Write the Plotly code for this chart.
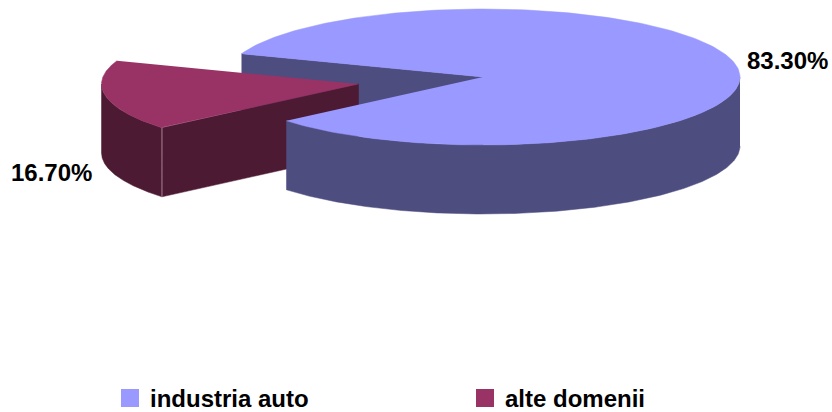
import numpy as np
import plotly.graph_objects as go

# ---- data ----
categories = ["industria auto", "alte domenii"]
values = [83.3, 16.7]
value_labels = ["83.30%", "16.70%"]

# ---- style / projection ----
top_colors = ["#9999FF", "#993366"]
side_colors = ["#4D4D80", "#4D1A33"]
RX, RY, DEPTH = 257, 68, 69
CENTER = (483, 77)
EXPLODE = (-124.5, 7)
START_DEG = 200
FONT = "Liberation Sans, Arial, sans-serif"
FONT_SIZE = 24


def pt(theta_deg, origin, dy=0.0):
    t = np.radians(theta_deg)
    return origin[0] + RX * np.cos(t), origin[1] + RY * np.sin(t) + dy


def arc(a0, a1, origin, dy=0.0):
    th = np.linspace(a0, a1, 241)
    return pt(th, origin, dy)


def poly(fig, xs, ys, color, name=None):
    fig.add_trace(go.Scatter(x=list(xs), y=list(ys), mode="lines", fill="toself",
                             fillcolor=color, line=dict(color=color, width=0.5),
                             hoverinfo="skip", showlegend=False, name=name))


spans = [v / sum(values) * 360 for v in values]
a0_main, a1_main = START_DEG, START_DEG + spans[0]
a0_red, a1_red = a1_main - 360, a1_main - 360 + spans[1]
red_origin = (CENTER[0] + EXPLODE[0], CENTER[1] + EXPLODE[1])

fig = go.Figure()

# back cut wall of the main slice, seen through the gap
bx, by = pt(a0_main, CENTER)
poly(fig, [bx, CENTER[0], CENTER[0], bx], [by, CENTER[1], CENTER[1] + DEPTH, by + DEPTH], side_colors[0])

# exploded slice: cut wall, rim wall, top
fx, fy = pt(a0_red, red_origin)
poly(fig, [fx, red_origin[0], red_origin[0], fx],
     [fy, red_origin[1], red_origin[1] + DEPTH, fy + DEPTH], side_colors[1])
rim_a = max(a0_red, 90), min(a1_red, 180)
ux, uy = arc(rim_a[0], rim_a[1], red_origin)
lx, ly = arc(rim_a[1], rim_a[0], red_origin, DEPTH)
poly(fig, np.r_[ux, lx], np.r_[uy, ly], side_colors[1])
fig.add_trace(go.Scatter(x=[fx, fx], y=[fy, fy + DEPTH], mode="lines",
                         line=dict(color="#A87F93", width=1), hoverinfo="skip", showlegend=False))
tx, ty = arc(a0_red, a1_red, red_origin)
poly(fig, np.r_[red_origin[0], tx], np.r_[red_origin[1], ty], top_colors[1], categories[1])

# main slice: rim wall and top
ux, uy = arc(360, a1_main, CENTER)
lx, ly = arc(a1_main, 360, CENTER, DEPTH)
poly(fig, np.r_[ux, lx], np.r_[uy, ly], side_colors[0])
tx, ty = arc(a0_main, a1_main, CENTER)
poly(fig, np.r_[CENTER[0], tx], np.r_[CENTER[1], ty], top_colors[0], categories[0])

# legend entries
for name, color in zip(categories, top_colors):
    fig.add_trace(go.Scatter(x=[None], y=[None], mode="markers", name=name,
                             marker=dict(symbol="square", size=16, color=color,
                                         line=dict(color=color, width=2))))

label_pos = [(787.5, 60), (51.5, 172)]
for text, (lx0, ly0) in zip(value_labels, label_pos):
    fig.add_annotation(x=lx0, y=ly0, text=f"<b>{text}</b>", showarrow=False,
                       font=dict(family=FONT, size=FONT_SIZE, color="black"))

fig.update_layout(
    width=832, height=412, margin=dict(l=0, r=0, t=0, b=0, autoexpand=False),
    paper_bgcolor="white", plot_bgcolor="white",
    xaxis=dict(range=[0, 832], visible=False, fixedrange=True),
    yaxis=dict(range=[412, 0], visible=False, fixedrange=True),
    legend=dict(orientation="h", x=110 / 832, xanchor="left", y=-9 / 412, yanchor="bottom",
                entrywidth=310, entrywidthmode="pixels", tracegroupgap=0,
                font=dict(family=FONT, size=FONT_SIZE, color="black", weight="bold"),
                bgcolor="rgba(0,0,0,0)", borderwidth=0),
)
fig.write_html("out.html", config={"displayModeBar": False},
               post_script="document.body.style.margin='0';")
